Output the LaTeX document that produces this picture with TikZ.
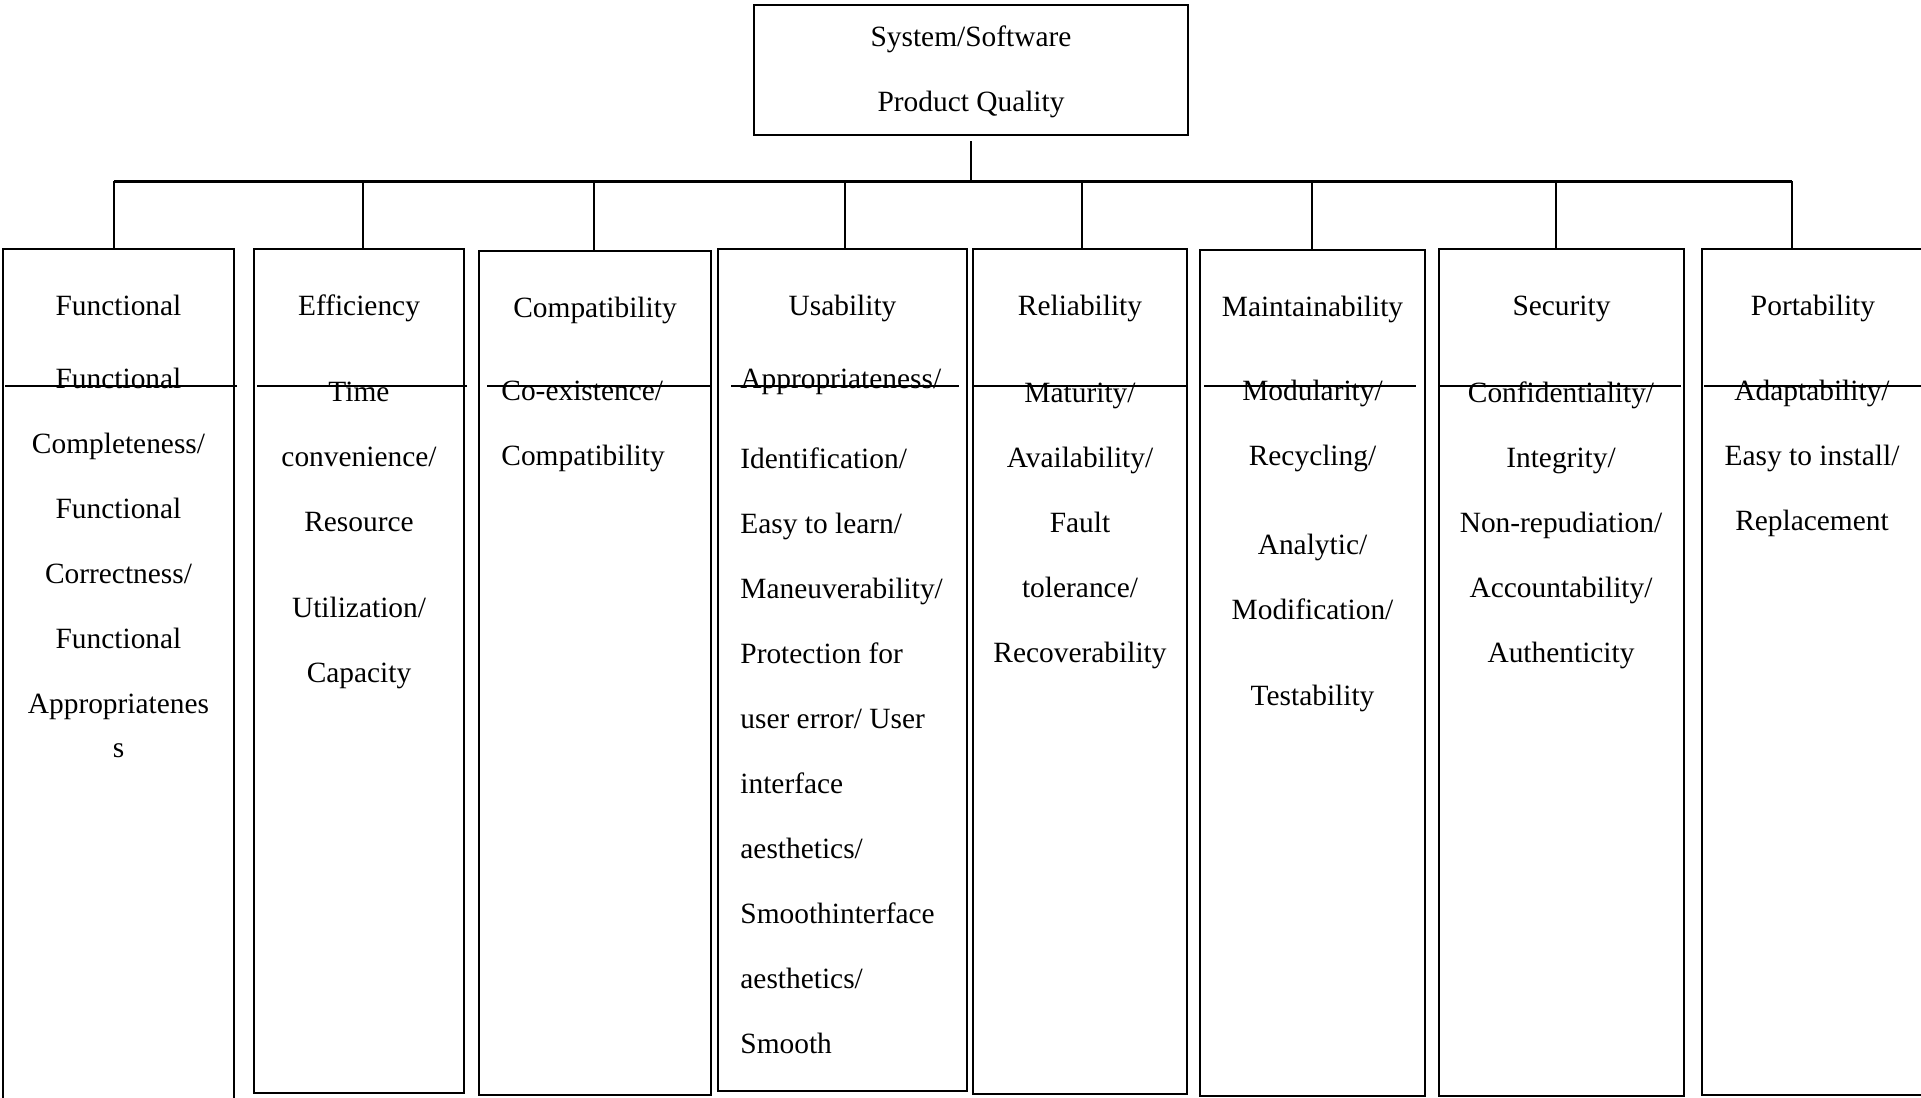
\documentclass[tikz,border=0pt]{standalone}
\usepackage{fontspec}
\setmainfont{Liberation Serif}
\begin{document}
\begin{tikzpicture}[x=0.5pt,y=-0.5pt,
    catbox/.style={draw,line width=1.1pt,inner sep=0pt,outer sep=0pt,anchor=north west},
    lbl/.style={font=\fontsize{14.7}{32.5}\selectfont,inner sep=0pt,anchor=base},
    body/.style={lbl,align=center},
    lbody/.style={lbl,align=left,anchor=base west},
    link/.style={line width=1pt}]
  \useasboundingbox (0,0) rectangle (1921,1097);
  % root
  \node[catbox,minimum width=217pt,minimum height=65pt] (root) at (754,5) {};
  \node[lbl] (root-a) at (971,47) {System/Software};
  \node[lbl] (root-b) at (971,112) {Product Quality};
  \coordinate (hub) at (971,181);
  \draw[link,shorten <=3pt] (root.south) -- (hub);
  % categories
  \foreach \n/\xa/\ya/\xb/\yb/\d/\h in {func/3/249/234/1100/114/Functional,
      eff/254/249/464/1093/363/Efficiency, compat/479/251/711/1095/594/Compatibility,
      usab/718/249/967/1091/845/Usability, rel/973/249/1187/1094/1082/Reliability,
      maint/1200/250/1425/1096/1312/Maintainability, sec/1439/249/1684/1096/1556/Security,
      port/1702/249/1924/1095/1792/Portability} {
    \node[catbox,minimum width={(\xb-\xa)*0.5pt},minimum height={(\yb-\ya)*0.5pt}] (\n) at (\xa,\ya) {};
    \node[lbl] (\n-h) at ({(\xa+\xb)/2},{\ya+66}) {\h};
    \coordinate (\n-d) at (\d,181);
    \draw[link] (\n-d) -- (\n-d |- \n.north);
  }
  \draw[line width=1.5pt] (func-d) -- (port-d);
  \foreach \xa/\xb in {5/237, 257/467, 487/710, 731/959, 973/1188, 1204/1416, 1438/1681, 1704/1921}
    \draw[line width=1pt] (\xa,386) -- (\xb,386);
  % sub-characteristics (placed at the baseline of their last line)
  \node[body] (func-b) at (118.5,757) {Functional\\Completeness/\\Functional\\Correctness/\\Functional\\Appropriatenes\\[-10.5pt]s};
  \node[body] (eff-b) at (359,682) {Time\\convenience/\\Resource\\[10.5pt]Utilization/\\Capacity};
  \node[lbody] (compat-b) at (501,465) {Co-existence/\\Compatibility};
  \node[lbody] (usab-b) at (740,1053) {Appropriateness/\\[7.5pt]Identification/\\Easy to learn/\\Maneuverability/\\Protection for\\user error/ User\\interface\\aesthetics/\\Smoothinterface\\aesthetics/\\Smooth};
  \node[body] (rel-b) at (1080,662) {Maturity/\\Availability/\\Fault\\tolerance/\\Recoverability};
  \node[body] (maint-b) at (1312.5,705) {Modularity/\\Recycling/\\[12pt]Analytic/\\Modification/\\[10.5pt]Testability};
  \node[body] (sec-b) at (1561,662) {Confidentiality/\\Integrity/\\Non-repudiation/\\Accountability/\\Authenticity};
  \node[body] (port-b) at (1812,530) {Adaptability/\\Easy to install/\\Replacement};
\end{tikzpicture}
\end{document}
